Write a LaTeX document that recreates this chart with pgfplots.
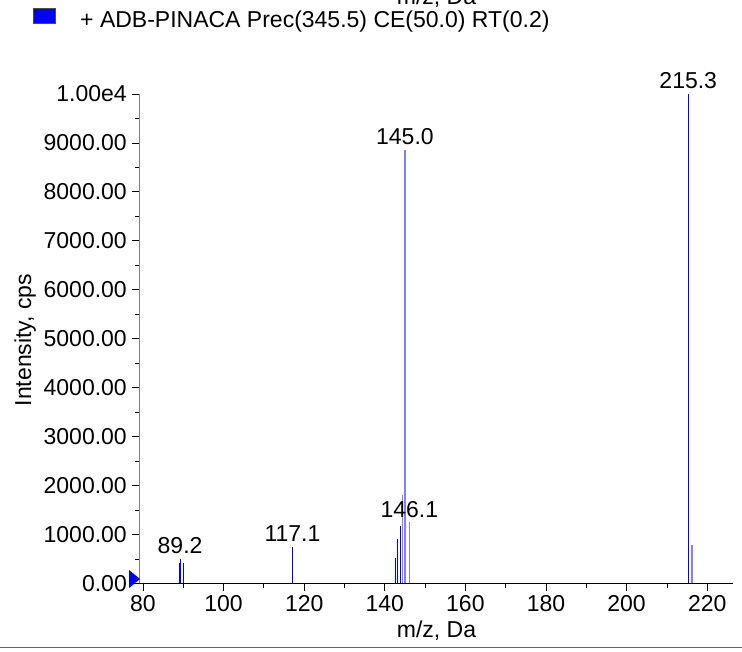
\documentclass[border=0pt]{standalone}
\usepackage{fontspec}
\setmainfont{Liberation Sans}
\usepackage{pgfplots}
\pgfplotsset{compat=1.18}
\definecolor{pkblue}{RGB}{0,0,255}
\definecolor{pklight}{RGB}{128,128,255}
\begin{document}
\begin{tikzpicture}[x=1pt,y=1pt,font=\fontsize{23}{27}\selectfont]
\useasboundingbox (0,0) rectangle (742,651);
\begin{axis}[
  at={(140pt,67.5pt)}, anchor=south west,
  scale only axis, width=593pt, height=489.5pt,
  xmin=79.26, xmax=226.4, ymin=0, ymax=10000,
  axis x line*=bottom, axis y line*=left,
  x axis line style={black, line width=1pt, -},
  y axis line style={black!50, line width=1pt, -},
  xtick={80,100,...,220}, minor x tick num=1,
  ytick={0,1000,...,10000},
  yticklabels={0.00,1000.00,2000.00,3000.00,4000.00,5000.00,6000.00,7000.00,8000.00,9000.00,1.00e4},
  scaled y ticks=false, scaled x ticks=false,
  minor y tick num=1,
  tick align=outside, major tick length=8pt, minor tick length=4.5pt,
  tick style={black, line width=0.8pt},
  every tick label/.append style={inner sep=0pt},
  xticklabel style={anchor=north, yshift=-3.5pt},
  yticklabel style={anchor=east, xshift=-5pt},
  /pgf/number format/assume math mode=true,
  /pgf/number format/1000 sep={},
  clip=false,
]
\addplot[ycomb, no marks, draw=pkblue, line width=1pt] coordinates {
  (89.0,419) (89.2,507) (90.0,419) (117.1,752) (142.6,515) (143.2,903) (144.0,1181) (215.3,10000)
};
\addplot[ycomb, no marks, draw=pklight, line width=1.6pt] coordinates {
  (144.4,1808) (145.0,8860) (146.1,1256) (216.3,787)
};
\node[anchor=base, inner sep=0pt, yshift=5pt] at (axis cs:215.3,10000) {215.3};
\node[anchor=base, inner sep=0pt, yshift=5pt] at (axis cs:145.0,8860) {145.0};
\node[anchor=base, inner sep=0pt, yshift=5pt] at (axis cs:146.1,1256) {146.1};
\node[anchor=base, inner sep=0pt, yshift=5pt] at (axis cs:117.1,752) {117.1};
\node[anchor=base, inner sep=0pt, yshift=5pt] at (axis cs:89.2,507) {89.2};
\end{axis}
% zero marker
\fill[pkblue] (129,81) -- (140,72) -- (129,63) -- cycle;
% axis titles
\node[anchor=base, inner sep=0pt] at (436.5,14) {m/z, Da};
\node[anchor=base, inner sep=0pt, rotate=90] at (31,311) {Intensity, cps};
% legend
\filldraw[fill=pkblue, draw=black!70, line width=0.8pt] (33,628) rectangle (55,643);
\node[anchor=base west, inner sep=0pt] at (80,623) {+ ADB-PINACA Prec(345.5) CE(50.0) RT(0.2)};
% partially cut title from previous panel
\node[anchor=base, inner sep=0pt] at (436.5,646) {m/z, Da};
% bottom rule
\draw[black!60, line width=1.5pt] (0,3.5) -- (742,3.5);
\end{tikzpicture}
\end{document}
